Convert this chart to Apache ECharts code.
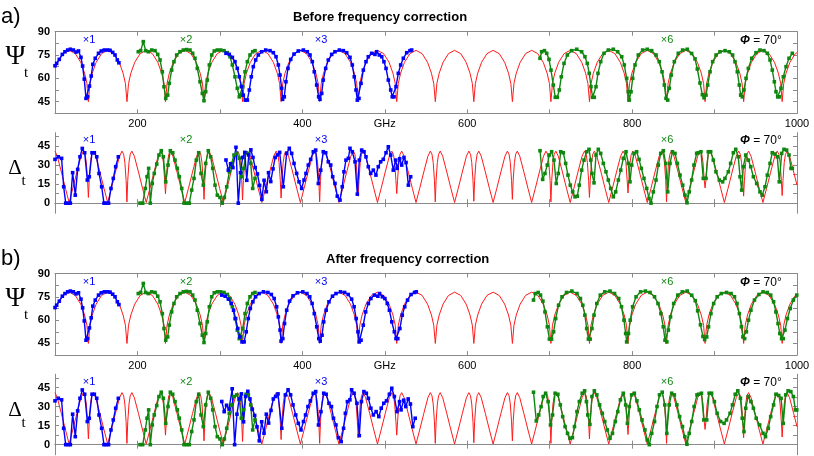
<!DOCTYPE html>
<html><head><meta charset="utf-8">
<script src="https://cdn.jsdelivr.net/npm/echarts@6/dist/echarts.min.js"></script>
<style>html,body{margin:0;padding:0;background:#fff}#c{width:814px;height:456px}</style>
</head><body><div id="c"></div>
<script>
// ---------- model (red) curves ----------
const redPsiF = [100,103.2,109.8,117.2,124.6,131.2,135.9,138.7,
140.5,142.4,145.2,149.9,156.5,163.9,171.3,177.9,182.6,185.4,
187.3,189.2,192.0,196.7,203.3,210.7,218.1,224.7,229.4,232.2,
234,235.9,238.7,243.4,250,257.4,264.8,271.4,276.1,278.9,
280.8,282.7,285.5,290.2,296.8,304.2,311.6,318.2,322.9,325.7,
327.5,329.4,332.2,336.9,343.5,350.9,358.3,364.9,369.6,372.4,
374.3,376.2,379.0,383.7,390.3,397.7,405.1,411.7,416.4,419.2,
421,422.9,425.7,430.4,437,444.4,451.8,458.4,463.1,465.9,
467.8,469.7,472.5,477.2,483.8,491.2,498.6,505.2,509.9,512.7,
514.5,516.4,519.2,523.9,530.5,537.9,545.3,551.9,556.6,559.4,
561.3,563.2,566.0,570.7,577.3,584.7,592.1,598.7,603.4,606.2,
608,609.9,612.7,617.4,624,631.4,638.8,645.4,650.1,652.9,
654.8,656.7,659.5,664.2,670.8,678.2,685.6,692.2,696.9,699.7,
701.5,703.4,706.2,710.9,717.5,724.9,732.3,738.9,743.6,746.4,
748.3,750.2,753.0,757.7,764.3,771.7,779.1,785.7,790.4,793.2,
795,796.9,799.7,804.4,811,818.4,825.8,832.4,837.1,839.9,
841.8,843.7,846.5,851.2,857.8,865.2,872.6,879.2,883.9,886.7,
888.5,890.4,893.2,897.9,904.5,911.9,919.3,925.9,930.6,933.4,
935.3,937.2,940.0,944.7,951.3,958.7,966.1,972.7,977.4,980.2,
982,983.9,986.7,991.4,998,1000];
const redPsiV = [66.6,70.3,75.9,78,75.9,70.3,63.3,56.7,
45,56.7,63.3,70.3,75.9,78,75.9,70.3,63.3,56.7,
45,56.7,63.3,70.3,75.9,78,75.9,70.3,63.3,56.7,
45,56.7,63.3,70.3,75.9,78,75.9,70.3,63.3,56.7,
45,56.7,63.3,70.3,75.9,78,75.9,70.3,63.3,56.7,
45,56.7,63.3,70.3,75.9,78,75.9,70.3,63.3,56.7,
45,56.7,63.3,70.3,75.9,78,75.9,70.3,63.3,56.7,
45,56.7,63.3,70.3,75.9,78,75.9,70.3,63.3,56.7,
45,56.7,63.3,70.3,75.9,78,75.9,70.3,63.3,56.7,
45,56.7,63.3,70.3,75.9,78,75.9,70.3,63.3,56.7,
45,56.7,63.3,70.3,75.9,78,75.9,70.3,63.3,56.7,
45,56.7,63.3,70.3,75.9,78,75.9,70.3,63.3,56.7,
45,56.7,63.3,70.3,75.9,78,75.9,70.3,63.3,56.7,
45,56.7,63.3,70.3,75.9,78,75.9,70.3,63.3,56.7,
45,56.7,63.3,70.3,75.9,78,75.9,70.3,63.3,56.7,
45,56.7,63.3,70.3,75.9,78,75.9,70.3,63.3,56.7,
45,56.7,63.3,70.3,75.9,78,75.9,70.3,63.3,56.7,
45,56.7,63.3,70.3,75.9,78,75.9,70.3,63.3,56.7,
45,56.7,63.3,70.3,75.9,78,75.9,70.3,63.3,56.7,
45,56.7,63.3,70.3,75.9,76.5];

const redDeltaF = [100,102.75,107.75,112.75,117.15,121.55,126.55,131.55,134.5,136.5,138,139.5,
140.5,141.5,143,144.5,146.5,149.5,154.5,159.5,163.9,168.3,173.3,178.3,181.25,183.25,184.75,186.25,
187.25,188.25,189.75,191.25,193.25,196.25,201.25,206.25,210.65,215.05,220.05,225.05,228,230,231.5,233,
234,235,236.5,238,240,243,248,253,257.4,261.8,266.8,271.8,274.75,276.75,278.25,279.75,
280.75,281.75,283.25,284.75,286.75,289.75,294.75,299.75,304.15,308.55,313.55,318.55,321.5,323.5,325,326.5,
327.5,328.5,330,331.5,333.5,336.5,341.5,346.5,350.9,355.3,360.3,365.3,368.25,370.25,371.75,373.25,
374.25,375.25,376.75,378.25,380.25,383.25,388.25,393.25,397.65,402.05,407.05,412.05,415,417,418.5,420,
421,422,423.5,425,427,430,435,440,444.4,448.8,453.8,458.8,461.75,463.75,465.25,466.75,
467.75,468.75,470.25,471.75,473.75,476.75,481.75,486.75,491.15,495.55,500.55,505.55,508.5,510.5,512,513.5,
514.5,515.5,517,518.5,520.5,523.5,528.5,533.5,537.9,542.3,547.3,552.3,555.25,557.25,558.75,560.25,
561.25,562.25,563.75,565.25,567.25,570.25,575.25,580.25,584.65,589.05,594.05,599.05,602,604,605.5,607,
608,609,610.5,612,614,617,622,627,631.4,635.8,640.8,645.8,648.75,650.75,652.25,653.75,
654.75,655.75,657.25,658.75,660.75,663.75,668.75,673.75,678.15,682.55,687.55,692.55,695.5,697.5,699,700.5,
701.5,702.5,704,705.5,707.5,710.5,715.5,720.5,724.9,729.3,734.3,739.3,742.25,744.25,745.75,747.25,
748.25,749.25,750.75,752.25,754.25,757.25,762.25,767.25,771.65,776.05,781.05,786.05,789,791,792.5,794,
795,796,797.5,799,801,804,809,814,818.4,822.8,827.8,832.8,835.75,837.75,839.25,840.75,
841.75,842.75,844.25,845.75,847.75,850.75,855.75,860.75,865.15,869.55,874.55,879.55,882.5,884.5,886,887.5,
888.5,889.5,891,892.5,894.5,897.5,902.5,907.5,911.9,916.3,921.3,926.3,929.25,931.25,932.75,934.25,
935.25,936.25,937.75,939.25,941.25,944.25,949.25,954.25,958.65,963.05,968.05,973.05,976,978,979.5,981,
982,983,984.5,986,988,991,996,1000];
const redDeltaV = [41,37,24.5,11.5,0.5,11.5,24.5,37,41,38.5,32,18,
4.5,18,32,38.5,41,37,24.5,11.5,0.5,11.5,24.5,37,41,38.5,32,18,
1,18,32,38.5,41,37,24.5,11.5,0.5,11.5,24.5,37,41,38.5,32,18,
7.5,18,32,38.5,41,37,24.5,11.5,0.5,11.5,24.5,37,41,38.5,32,18,
3,18,32,38.5,41,37,24.5,11.5,0.5,11.5,24.5,37,41,38.5,32,18,
2.5,18,32,38.5,41,37,24.5,11.5,0.5,11.5,24.5,37,41,38.5,32,18,
4,18,32,38.5,41,37,24.5,11.5,0.5,11.5,24.5,37,41,38.5,32,18,
1,18,32,38.5,41,37,24.5,11.5,0.5,11.5,24.5,37,41,38.5,32,18,
5.5,18,32,38.5,41,37,24.5,11.5,0.5,11.5,24.5,37,41,38.5,32,18,
7.5,18,32,38.5,41,37,24.5,11.5,0.5,11.5,24.5,37,41,38.5,32,18,
1,18,32,38.5,41,37,24.5,11.5,0.5,11.5,24.5,37,41,38.5,32,18,
1.5,18,32,38.5,41,37,24.5,11.5,0.5,11.5,24.5,37,41,38.5,32,18,
3,18,32,38.5,41,37,24.5,11.5,0.5,11.5,24.5,37,41,38.5,32,18,
1,18,32,38.5,41,37,24.5,11.5,0.5,11.5,24.5,37,41,38.5,32,18,
4.5,18,32,38.5,41,37,24.5,11.5,0.5,11.5,24.5,37,41,38.5,32,18,
8,18,32,38.5,41,37,24.5,11.5,0.5,11.5,24.5,37,41,38.5,32,18,
1,18,32,38.5,41,37,24.5,11.5,0.5,11.5,24.5,37,41,38.5,32,18,
12,18,32,38.5,41,37,24.5,11.5,0.5,11.5,24.5,37,41,38.5,32,18,
5.5,18,32,38.5,41,37,24.5,11.5,0.5,11.5,24.5,37,41,38.5,32,18,
6,18,32,38.5,41,37,24.5,14.1];

// ---------- measured data ----------
const x1Psi = [[100,68.1],[102,69.6],[105.2,72.2],[108.9,75.4],[112.1,77.1],[115.4,78.2],[118.6,78.7],[122.3,78.2],[125.5,76.9],[128.5,77.6],[131.5,73.5],[133.5,67.9],[135.5,59.5],[137.6,47.1],[139.6,48.1],[141.8,55],[143.9,61.5],[145.9,69],[148.8,72.9],[152.8,76.1],[156.1,77.6],[159.8,78.2],[163.9,78.2],[166.8,78],[170,76.7],[172.8,75],[175.6,71.8],[177.5,70]];
const x1Delta = [[100,34.5],[104,36.5],[108,35.3],[110.5,12.9],[113,0],[116,0],[118.6,0],[121.4,24],[124.6,6.3],[127.5,26.6],[130.3,36.5],[133.1,43.1],[136,39.7],[139.2,18.2],[141.6,20.8],[144.9,39.7],[147.7,39.7],[150.6,36.5],[153.4,23.4],[156.6,12.9],[159.4,0],[162,0],[165,0],[167.9,11.6],[170.7,19.5],[173.6,28.7],[176.8,36.5]];

const x2Psi = [[201,77.1],[203.9,77.8],[207.1,83.6],[210,77.8],[213.2,77.1],[217.3,78.2],[221.3,77.8],[224.6,75.4],[227.4,71.8],[230.2,64.2],[232.2,54.6],[234.3,47.1],[236.7,49.2],[238.6,56.8],[241.5,65.3],[244.3,70.7],[247.6,75],[251.6,77.1],[255.6,78.2],[259.6,78.5],[263.7,78.2],[267,76.1],[269.8,72.9],[272.6,66.4],[275.9,57.8],[278.7,50.3],[280.7,45.6],[282.8,51.4],[284.7,58.9],[287.2,68.6],[290.1,75],[293.2,77.6],[296.9,78.2],[301,78.2],[305,77.8],[309,76.5],[312.3,73.9],[315.1,68.6],[318.3,61],[321.1,53.6],[323.5,48.1],[325.6,49.2],[327.7,54.6],[330.5,64.2],[333.3,70.7],[336.5,75],[339.8,77.1],[342.6,77.8]];
const x2Delta = [[203.1,0],[206.4,0],[209.5,11.6],[211.6,20.8],[213.6,27.4],[215.6,0],[218,15.5],[220.4,23.4],[223.4,30.8],[226.1,37.9],[228.9,41.3],[231.4,36.5],[234.3,16.8],[237.1,30],[239.9,41.3],[242.8,39.7],[245.6,33.9],[248.4,27.4],[250.8,20.8],[253.7,11.6],[256.5,0],[259.7,0],[262.9,0],[265.8,10.3],[268.6,19.5],[271.4,33.9],[274.3,39.7],[277.1,23.4],[279.9,14.2],[282.8,31.3],[285.9,41.3],[288.8,36.5],[291.3,27.4],[294.1,14.2],[296.9,6.3],[300.1,4.5],[302.9,0],[305.4,4.5],[308.3,12.9],[311.4,24.7],[314.3,31.3],[317.1,37.9],[320.4,39.2],[323.5,35.3],[326,20.8],[328.9,27.4],[331.7,39.7],[334.5,39.2],[337.4,31.3],[339.8,11.6],[342.6,19.5]];

const x3PsiBefore = [[307.4,76.1],[311.4,75.4],[315.1,73.5],[318.3,70.7],[321.1,66.4],[323.5,61],[326,54.6],[328.4,49.2],[330.8,46],[333.3,46],[335.7,52.5],[338.1,61],[340.5,67.5],[343.4,71.8],[346.6,75],[350.7,77.1],[355.6,78.2],[360.8,77.8],[364.8,76.5],[368.1,73.9],[370.9,68.6],[372.9,62.1],[374.9,53.6],[376.1,46.5],[378.1,48.1],[380.1,57.8],[382.6,66.4],[385.9,72.2],[389.9,75.6],[395.1,77.6],[401.3,78.2],[406,77.1],[409.3,75],[412.1,70.7],[414.5,64.2],[417.4,55.7],[419.8,48.1],[421.4,46.5],[423.5,50.3],[425.4,58.9],[428.3,66.4],[431.5,71.8],[435.6,75.4],[439.6,77.1],[444.9,78.2],[449.7,77.8],[453.8,76.5],[457.8,73.5],[460.6,68.6],[463,61],[465.1,52.5],[466.7,46],[468.7,47.1],[471.2,56.8],[474,65.3],[477.2,70.7],[480,73.9],[484.1,76.1],[488.1,75.4],[490.1,77.1],[493.4,75],[496.3,73.9],[499,70.7],[501.5,66.4],[504.3,58.9],[507.2,52.5],[509.1,48.1],[511.2,48.1],[513.6,54.6],[516.4,63.2],[519.3,68.6],[522.5,72.9],[526.6,76.5],[530.6,77.8],[532.6,78.2]];
const x3PsiAfter = [[302.3,76.1],[306.4,75.4],[310.3,73.5],[313.7,70.7],[316.6,66.4],[319.1,61],[321.7,54.6],[324.3,49.2],[326.8,46],[329.4,46],[331.9,52.5],[334.4,61],[336.9,67.5],[340,71.8],[343.3,75],[347.6,77.1],[352.8,78.2],[358.2,77.8],[362.4,76.5],[365.8,73.9],[368.8,68.6],[370.9,62.1],[373,53.6],[374.2,46.5],[376.3,48.1],[378.4,57.8],[381,66.4],[384.5,72.2],[388.7,75.6],[394.1,77.6],[400.6,78.2],[405.6,77.1],[409,75],[411.9,70.7],[414.5,64.2],[417.5,55.7],[420,48.1],[421.7,46.5],[423.9,50.3],[425.9,58.9],[428.9,66.4],[432.3,71.8],[436.6,75.4],[440.8,77.1],[446.3,78.2],[451.3,77.8],[455.6,76.5],[459.8,73.5],[462.8,68.6],[465.3,61],[467.5,52.5],[469.1,46],[471.2,47.1],[473.9,56.8],[476.8,65.3],[480.1,70.7],[483.1,73.9],[487.4,76.1],[491.6,75.4],[493.7,77.1],[497.1,75],[500.1,73.9],[503,70.7],[505.6,66.4],[508.5,58.9],[511.6,52.5],[513.6,48.1],[515.8,48.1],[518.3,54.6],[521.2,63.2],[524.2,68.6],[527.6,72.9],[531.9,76.5],[536.1,77.8],[538.2,78.2]];
const x3DeltaBefore = [[307.4,34],[310.2,26],[313,31],[315.8,28],[319.5,44],[322.3,0],[325,24],[327.6,36],[330.2,40],[332.6,18],[335,38],[337.6,42],[340.1,36],[342.8,28],[345.5,23],[348.2,14],[350.9,3],[353.6,18],[356.3,9],[359,24],[361.7,17],[364.4,27],[367.1,36],[369.8,38],[372.5,40],[376.9,12.9],[381,39.2],[384.2,43.2],[387.1,39.2],[389.9,31.3],[393.1,23.4],[396,16.8],[399.2,11.6],[402,18.2],[404.4,23.4],[407.2,30],[410.1,34.5],[413.3,40.5],[416.2,41.8],[419.4,15.5],[422.3,26],[425.4,40.5],[428.3,39.7],[431.5,32.6],[434.4,30],[436.8,20.8],[439.6,15.5],[442.4,5.5],[445.7,2.4],[448.4,12.9],[450.5,24.7],[452.9,33.9],[455.8,35.3],[457.8,43.2],[460.6,40.5],[463.9,32.6],[466.7,7.1],[469.1,33.9],[472,41.8],[474.8,40.5],[477.2,36.5],[480,28.7],[482.9,23.4],[486.1,26],[489.3,22.1],[492.1,28.7],[495,32.6],[498.2,34.5],[501.5,39.7],[504.3,44.4],[507.2,37.9],[510.3,26],[513.2,33.9],[515.1,27.4],[518,35],[520.5,30],[523.3,36],[525.8,32],[528.6,14.2],[531.4,20.8]];
const x3DeltaAfter = [[302.3,34],[305.2,26],[308.1,31],[311.1,28],[314.9,44],[317.9,0],[320.7,24],[323.4,36],[326.1,40],[328.7,18],[331.2,38],[333.9,42],[336.5,36],[339.3,28],[342.2,23],[345,14],[347.8,3],[350.7,18],[353.5,9],[356.3,24],[359.1,17],[362,27],[364.8,36],[367.6,38],[370.5,40],[375.1,12.9],[379.4,39.2],[382.7,43.2],[385.8,39.2],[388.7,31.3],[392,23.4],[395.1,16.8],[398.4,11.6],[401.4,18.2],[403.9,23.4],[406.8,30],[409.8,34.5],[413.2,40.5],[416.2,41.8],[419.6,15.5],[422.6,26],[425.9,40.5],[428.9,39.7],[432.3,32.6],[435.3,30],[437.8,20.8],[440.8,15.5],[443.7,5.5],[447.1,2.4],[450,12.9],[452.2,24.7],[454.7,33.9],[457.7,35.3],[459.8,43.2],[462.8,40.5],[466.2,32.6],[469.1,7.1],[471.7,33.9],[474.7,41.8],[477.6,40.5],[480.1,36.5],[483.1,28.7],[486.1,23.4],[489.5,26],[492.8,22.1],[495.7,28.7],[498.8,32.6],[502.1,34.5],[505.6,39.7],[508.5,44.4],[511.6,37.9],[514.8,26],[517.9,33.9],[519.8,27.4],[522.9,35],[525.5,30],[528.4,36],[531.1,32],[534,14.2],[536.9,20.8]];

const x6PsiBefore = [[688.3,72.9],[690.3,77.1],[693.7,77.8],[696.4,76.1],[699.2,72.2],[701.6,65.3],[704.4,55.7],[706.8,47.8],[709.3,47.8],[711.7,52.5],[714.1,61],[717.4,69.6],[721.4,75],[726.7,77.8],[732.8,78.7],[738.8,77.1],[742.8,73.9],[745.6,69.6],[748,63.2],[750.1,54.6],[752.1,47.8],[754.1,47.8],[756.2,54.6],[758.6,63.2],[761.9,70.7],[765.9,76.1],[771.1,78.2],[777.2,78.7],[782.5,77.1],[787.4,73.9],[790.5,68.6],[793.4,60],[795.4,51.4],[796.6,46],[798.7,51.4],[800.7,60],[803.5,68.6],[807.5,75],[812.8,78.2],[818.4,78.7],[823.7,77.8],[829,75],[833,70.7],[836.3,64.2],[839.1,55.7],[841.1,47.1],[843.2,46],[845.1,53.6],[847.5,62.1],[851.2,70.7],[856,76.1],[861.3,78.2],[866.9,78.7],[872.2,76],[876.3,72.5],[879.1,66],[882.3,57],[885.2,49.5],[887.2,47.5],[889.6,49.2],[891.7,55.7],[894.5,64.2],[897.7,70.7],[901.8,75],[906.6,77.1],[912.7,77.8],[917.9,77.1],[921.9,75],[924.8,70.7],[927.6,64.2],[930,55.7],[931.7,49.2],[933.7,48.1],[935.7,52.5],[938.2,60],[941,66.4],[945.1,72.9],[950.3,76.5],[955.1,78.2],[960,77.8],[964,76.1],[967.3,71.8],[970,65.3],[972.5,57.8],[974.5,51.4],[976.6,48.1],[978.5,48.1],[980.6,53.6],[983.4,61],[986.7,67.5],[990.3,72.9],[994.3,76.1]];
const x6PsiAfter = [[680.4,72.9],[682.5,77.1],[686.1,77.8],[688.9,76.1],[691.8,72.2],[694.3,65.3],[697.2,55.7],[699.7,47.8],[702.3,47.8],[704.8,52.5],[707.3,61],[710.8,69.6],[715,75],[720.5,77.8],[726.9,78.7],[733.1,77.1],[737.3,73.9],[740.2,69.6],[742.7,63.2],[744.9,54.6],[747,47.8],[749.1,47.8],[751.3,54.6],[753.8,63.2],[757.2,70.7],[761.4,76.1],[766.8,78.2],[773.2,78.7],[778.7,77.1],[783.8,73.9],[787.1,68.6],[790.1,60],[792.2,51.4],[793.4,46],[795.6,51.4],[797.7,60],[800.6,68.6],[804.8,75],[810.3,78.2],[816.2,78.7],[821.7,77.8],[827.2,75],[831.4,70.7],[834.9,64.2],[837.8,55.7],[839.9,47.1],[842.1,46],[844,53.6],[846.6,62.1],[850.4,70.7],[855.4,76.1],[860.9,78.2],[866.8,78.7],[872.3,76],[876.6,72.5],[879.5,66],[882.9,57],[885.9,49.5],[888,47.5],[890.5,49.2],[892.7,55.7],[895.6,64.2],[898.9,70.7],[903.2,75],[908.2,77.1],[914.6,77.8],[920,77.1],[924.2,75],[927.2,70.7],[930.1,64.2],[932.6,55.7],[934.4,49.2],[936.5,48.1],[938.6,52.5],[941.2,60],[944.1,66.4],[948.4,72.9],[953.8,76.5],[958.8,78.2],[963.9,77.8],[968.1,76.1],[971.6,71.8],[974.4,65.3],[977,57.8],[979.1,51.4],[981.3,48.1],[983.3,48.1],[985.4,53.6],[988.4,61],[991.8,67.5],[995.6,72.9],[999.7,76.1]];
const x6DeltaBefore = [[688.3,41.3],[691.5,18.7],[694.3,23.4],[697.1,30],[699.5,37.9],[702.4,40.5],[705.2,33.9],[708,15.5],[710.4,23.4],[713.4,40.5],[716.5,39.7],[719.4,31.3],[722.2,22.1],[725,14.2],[727.9,8.9],[730.7,5],[733.5,5.5],[735.9,14.2],[738.8,26],[741.6,33.9],[744.9,40.5],[747.7,42.4],[749.8,33.9],[751.3,23.4],[753.8,16],[756.2,37.9],[759,42.4],[761.9,39.2],[765.1,31.3],[768.3,24.7],[771.1,18.2],[774,11.6],[777.2,5],[780.1,8.9],[783.3,18.2],[786.2,26],[789.3,35.3],[792.6,40.5],[795.4,31.3],[797.4,16.8],[799.5,30],[802.3,39.2],[805.5,40.5],[808.4,34.5],[811.2,27.4],[814.4,19.5],[817.7,11.6],[820.5,3.7],[822.9,0],[825.7,8.9],[829,18.2],[831.8,30],[834.7,39.2],[837.9,41.3],[840.8,31.3],[843.2,8.9],[846,31.3],[848.9,40.5],[852,39.2],[854.9,31.3],[858.1,22.1],[861.4,14.2],[864.1,6.3],[866.6,0.3],[869.3,8.9],[872.2,18.2],[875,30],[878.3,39.2],[880.2,39.7],[883.5,40.5],[886.3,19.5],[889.6,19.5],[892.4,40.5],[895.3,40.5],[898.5,33.9],[901.7,24.7],[905.8,18.2],[909.8,16.8],[912.6,19.5],[916.7,24.7],[919.5,31.3],[922.8,39.7],[925.7,42.4],[928.8,36.5],[930.9,20.8],[932.9,10.3],[934.9,28.7],[937.8,37.9],[941,33.9],[943.9,28.7],[947.1,20.8],[951.1,15.5],[955.1,8.9],[957.9,6.3],[961.2,12.9],[964,22.1],[967.3,31.3],[970,39.7],[973.3,38.7],[976.1,36.5],[978.5,16.8],[981.4,39.2],[984.2,42.4],[987.4,41.8],[990.3,37.9],[992.7,27.4],[994.3,27.4]];
const x6DeltaAfter = [[680.4,41.3],[683.8,18.7],[686.7,23.4],[689.6,30],[692.1,37.9],[695.1,40.5],[698.1,33.9],[701,15.5],[703.5,23.4],[706.6,40.5],[709.9,39.7],[712.9,31.3],[715.8,22.1],[718.7,14.2],[721.7,8.9],[724.7,5],[727.6,5.5],[730.1,14.2],[733.1,26],[736,33.9],[739.5,40.5],[742.4,42.4],[744.6,33.9],[746.2,23.4],[748.8,16],[751.3,37.9],[754.2,42.4],[757.2,39.2],[760.6,31.3],[763.9,24.7],[766.8,18.2],[769.9,11.6],[773.2,5],[776.2,8.9],[779.6,18.2],[782.6,26],[785.8,35.3],[789.3,40.5],[792.2,31.3],[794.3,16.8],[796.5,30],[799.4,39.2],[802.7,40.5],[805.8,34.5],[808.7,27.4],[812,19.5],[815.5,11.6],[818.4,3.7],[820.9,0],[823.8,8.9],[827.2,18.2],[830.2,30],[833.2,39.2],[836.5,41.3],[839.6,31.3],[842.1,8.9],[845,31.3],[848,40.5],[851.2,39.2],[854.3,31.3],[857.6,22.1],[861.1,14.2],[863.9,6.3],[866.5,0.3],[869.3,8.9],[872.3,18.2],[875.2,30],[878.7,39.2],[880.7,39.7],[884.1,40.5],[887,19.5],[890.5,19.5],[893.4,40.5],[896.4,40.5],[899.8,33.9],[903.1,24.7],[907.4,18.2],[911.6,16.8],[914.5,19.5],[918.8,24.7],[921.7,31.3],[925.1,39.7],[928.2,42.4],[931.4,36.5],[933.6,20.8],[935.7,10.3],[937.8,28.7],[940.8,37.9],[944.1,33.9],[947.1,28.7],[950.5,20.8],[954.7,15.5],[958.8,8.9],[961.8,6.3],[965.2,12.9],[968.1,22.1],[971.6,31.3],[974.4,39.7],[977.8,38.7],[980.7,36.5],[983.3,16.8],[986.3,39.2],[989.2,42.4],[992.5,41.8],[995.6,37.9],[998.1,27.4],[999.7,27.4]];

// axis ticks / labels
const psiLabels = [45, 60, 75, 90];
const psiTicks = [45, 52.5, 60, 67.5, 75, 82.5, 90];
const deltaLabels = [0, 15, 30, 45];
const deltaTicks = [0, 7.5, 15, 22.5, 30, 37.5, 45, 52.5];

// ---------- chart ----------
const redPsi = redPsiF.map((f, i) => [f, redPsiV[i]]);
const redDelta = redDeltaF.map((f, i) => [f, redDeltaV[i]]);

const BLUE = '#0000ff', GREEN = '#0f870f', RED = '#ff1a1a', AX = '#8a8a8a';
const grids = [
  {left: 55, top: 31.7, width: 742, height: 81.6},
  {left: 55, top: 132.7, width: 742, height: 80.6},
  {left: 55, top: 273.5, width: 742, height: 81.6},
  {left: 55, top: 374.2, width: 742, height: 80.6}
];
const isPsi = [true, false, true, false];
const xAxis = [], yAxis = [];
grids.forEach((g, i) => {
  const common = {type: 'value', gridIndex: i, min: 100, max: 1000, interval: 100,
    axisLine: {show: true, lineStyle: {color: AX, width: 1}},
    axisTick: {show: true, inside: true, length: 4, lineStyle: {color: AX}},
    splitLine: {show: false}};
  xAxis.push(Object.assign({}, common, {position: 'bottom',
    axisLabel: {show: isPsi[i], color: '#000', fontSize: 11, margin: 5, fontFamily: 'Liberation Sans, Arial',
      formatter: v => v === 500 ? 'GHz' : (v % 200 === 0 ? String(v) : '')}}));
  xAxis.push(Object.assign({}, common, {position: 'top', axisLabel: {show: false}}));
  const ymin = isPsi[i] ? 37.5 : -8, ymax = isPsi[i] ? 90 : 55.5;
  const lab = isPsi[i] ? psiLabels : deltaLabels, tk = isPsi[i] ? psiTicks : deltaTicks;
  const yc = {type: 'value', gridIndex: i, min: ymin, max: ymax,
    axisLine: {show: true, lineStyle: {color: AX, width: 1}},
    splitLine: {show: false}};
  yAxis.push(Object.assign({}, yc, {position: 'left',
    axisTick: {show: true, inside: true, length: 4, lineStyle: {color: AX}, customValues: tk},
    axisLabel: {show: true, customValues: lab, color: '#000', fontSize: 11, fontWeight: 'bold', margin: 5, fontFamily: 'Liberation Sans, Arial'}}));
  yAxis.push(Object.assign({}, yc, {position: 'right',
    axisTick: {show: true, inside: true, length: 4, lineStyle: {color: AX}, customValues: tk},
    axisLabel: {show: false, customValues: lab}}));
});

function line(data, gi, color, model) {
  return {type: 'line', data: data, xAxisIndex: 2 * gi, yAxisIndex: 2 * gi,
    showSymbol: !model, symbol: 'rect', symbolSize: 3.6, smooth: false,
    lineStyle: {color: color, width: model ? 1 : 1.4},
    itemStyle: {color: color}, z: model ? 2 : 3, silent: true, animation: false};
}
const series = [
  line(redPsi, 0, RED, true), line(x1Psi, 0, BLUE), line(x2Psi, 0, GREEN), line(x3PsiBefore, 0, BLUE), line(x6PsiBefore, 0, GREEN),
  line(redDelta, 1, RED, true), line(x1Delta, 1, BLUE), line(x2Delta, 1, GREEN), line(x3DeltaBefore, 1, BLUE), line(x6DeltaBefore, 1, GREEN),
  line(redPsi, 2, RED, true), line(x1Psi, 2, BLUE), line(x2Psi, 2, GREEN), line(x3PsiAfter, 2, BLUE), line(x6PsiAfter, 2, GREEN),
  line(redDelta, 3, RED, true), line(x1Delta, 3, BLUE), line(x2Delta, 3, GREEN), line(x3DeltaAfter, 3, BLUE), line(x6DeltaAfter, 3, GREEN)
];

function txt(t, x, y, font, fill, align) {
  return {type: 'text', x: x, y: y, z: 100, silent: true,
    style: {text: t, font: font, fill: fill || '#000', textAlign: align || 'center', textVerticalAlign: 'middle'}};
}
const SANS = 'Liberation Sans, Arial, sans-serif';
const SERIF = 'Liberation Serif, Times New Roman, serif';
const graphic = [];
const panelOff = [0, 242];
panelOff.forEach((o, p) => {
  graphic.push(txt(p === 0 ? 'a)' : 'b)', 1, 17 + o, '22px ' + SANS, '#000', 'left'));
  graphic.push(txt(p === 0 ? 'Before frequency correction' : 'After frequency correction',
    p === 0 ? 293 : 326, 17.5 + o, 'bold 13px ' + SANS, '#000', 'left'));
  graphic.push(txt('\u03A8', 15.5, 57 + o, '27px ' + SERIF));
  graphic.push(txt('t', 26, 73 + o, '15px ' + SERIF));
  graphic.push(txt('\u0394', 15, 168 + o, '21px ' + SERIF));
  graphic.push(txt('t', 23.5, 181 + o, '15px ' + SERIF));
  [[39.5, 0], [139.5, 1]].forEach(([yy]) => {
    graphic.push(txt('\u00D71', 89, yy + o, '11px ' + SANS, BLUE));
    graphic.push(txt('\u00D72', 186, yy + o, '11px ' + SANS, GREEN));
    graphic.push(txt('\u00D73', 321, yy + o, '11px ' + SANS, BLUE));
    graphic.push(txt('\u00D76', 667, yy + o, '11px ' + SANS, GREEN));
    graphic.push({type: 'text', x: 740, y: yy + 1 + o, z: 100, silent: true,
      style: {text: '{p|\u03A6} = 70\u00B0', font: '12px ' + SANS, fill: '#000', textAlign: 'left', textVerticalAlign: 'middle',
        rich: {p: {fontStyle: 'italic', fontWeight: 'bold', fontSize: 12, fontFamily: SANS}}}});
  });
});

const chart = echarts.init(document.getElementById('c'), null, {renderer: 'canvas'});
chart.setOption({animation: false, backgroundColor: '#fff', grid: grids, xAxis: xAxis, yAxis: yAxis, series: series, graphic: graphic});
</script></body></html>
